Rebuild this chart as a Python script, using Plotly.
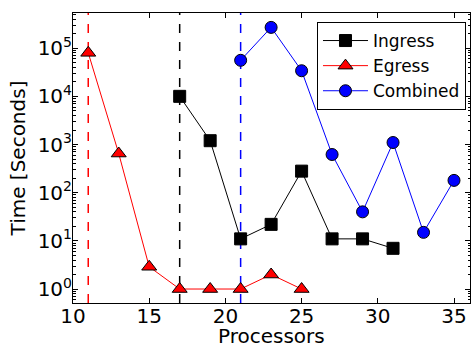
import numpy as np
import plotly.graph_objects as go

# Data
ingress_x = [17, 19, 21, 23, 25, 27, 29, 31]
ingress_y = [10000, 1200, 11, 22, 280, 11, 11, 7]
egress_x = [11, 13, 15, 17, 19, 21, 23, 25]
egress_y = [80000, 650, 2.9, 1, 1, 1, 2, 1]
combined_x = [21, 23, 25, 27, 29, 31, 33, 35]
combined_y = [56000, 270000, 34000, 620, 40, 1100, 15, 180]
vlines_x = [11, 17, 21]
vlines_color = ["red", "black", "blue"]
x_ticks = [10, 15, 20, 25, 30, 35]
y_exps = [0, 1, 2, 3, 4, 5]

FONT = "DejaVu Sans"

fig = go.Figure()
fig.add_trace(go.Scatter(x=ingress_x, y=ingress_y, name="Ingress", mode="lines+markers",
                         line=dict(color="black", width=1),
                         marker=dict(symbol="square", size=12, color="black",
                                     line=dict(color="black", width=1))))
fig.add_trace(go.Scatter(x=egress_x, y=egress_y, name="Egress", mode="lines+markers",
                         line=dict(color="red", width=1),
                         marker=dict(symbol="triangle-up", size=13, color="red",
                                     line=dict(color="black", width=1))))
fig.add_trace(go.Scatter(x=combined_x, y=combined_y, name="Combined", mode="lines+markers",
                         line=dict(color="blue", width=1),
                         marker=dict(symbol="circle", size=12, color="blue",
                                     line=dict(color="black", width=1))))

for xv, c in zip(vlines_x, vlines_color):
    fig.add_shape(type="line", xref="x", yref="paper", x0=xv, x1=xv, y0=0, y1=1,
                  line=dict(color=c, width=1.5, dash="dash"), layer="below")

minor_vals = [m * 10.0 ** e for e in range(-1, 6) for m in range(2, 10)]

fig.add_annotation(text="Processors", xref="paper", yref="paper", x=0.5, y=-0.069,
                   xanchor="center", yanchor="top", showarrow=False, borderpad=0,
                   font=dict(family=FONT, size=20, color="black"))

fig.update_layout(
    width=471, height=347,
    margin=dict(l=73, r=1, t=13, b=44),
    paper_bgcolor="white", plot_bgcolor="white",
    font=dict(family=FONT, size=20, color="black"),
    showlegend=True,
    legend=dict(x=0.6146, y=0.969, xanchor="left", yanchor="top",
                bgcolor="white", bordercolor="black", borderwidth=1,
                font=dict(family=FONT, size=17), itemwidth=45,
                tracegroupgap=0),
    xaxis=dict(range=[10, 36.05], tickvals=x_ticks, ticktext=[str(v) for v in x_ticks],
               ticks="inside", ticklen=5, tickcolor="black", mirror="allticks",
               ticklabelstandoff=-5, automargin=False,
               showline=True, linecolor="black", linewidth=1, showgrid=False, zeroline=False,
               tickfont=dict(size=20)),
    yaxis=dict(type="log", range=[-0.29, 5.73],
               tickvals=[10 ** e for e in y_exps],
               ticktext=["10<sup>%d</sup>" % e for e in y_exps],
               ticks="inside", ticklen=5, tickcolor="black", mirror="allticks",
               ticklabelstandoff=-4, automargin=False,
               showline=True, linecolor="black", linewidth=1, showgrid=False, zeroline=False,
               tickfont=dict(size=20),
               minor=dict(tickvals=minor_vals, ticks="inside", ticklen=2.5, tickcolor="black", showgrid=False),
               title=dict(text="Time [Seconds]", font=dict(size=20), standoff=6)),
)

fig.write_html("out.html")
